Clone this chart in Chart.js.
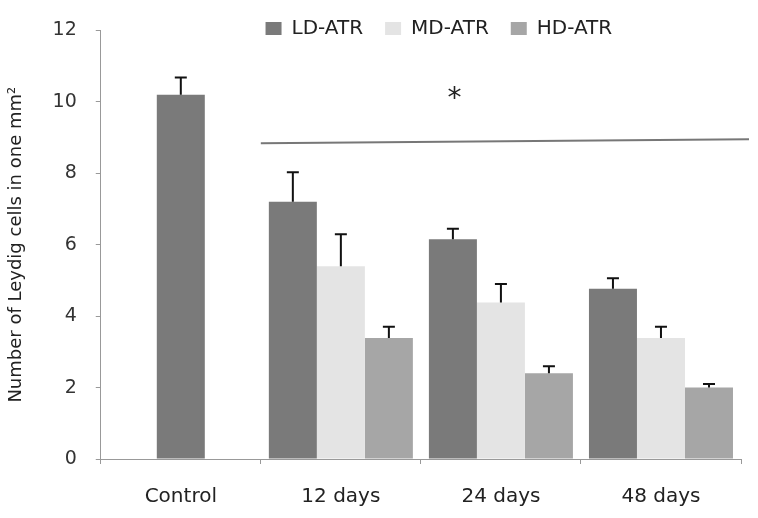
<!DOCTYPE html>
<html>
<head>
<meta charset="utf-8">
<script src="https://cdn.jsdelivr.net/npm/chart.js@4.4.0/dist/chart.umd.min.js"></script>
<style>
  html, body { margin: 0; padding: 0; background: #fff; }
  #wrap { width: 758px; height: 518px; }
</style>
</head>
<body>
<div id="wrap"><canvas id="myChart"></canvas></div>
<script>
// data
const categories = ['Control', '12 days', '24 days', '48 days'];
const ldValues = [10.2, 7.2, 6.15, 4.77];
const mdValues = [null, 5.4, 4.38, 3.39];
const hdValues = [null, 3.39, 2.4, 2.0];
const ldErrors = [0.48, 0.83, 0.3, 0.29];
const mdErrors = [null, 0.89, 0.52, 0.31];
const hdErrors = [null, 0.31, 0.2, 0.1];
const yTicks = [0, 2, 4, 6, 8, 10, 12];

// significance line (category index / y value) and the asterisk
const sigLine = { from: 0.5, to: 3.55, y0: 8.84, y1: 8.95 };
const starPos = { index: 1.71, value: 10.33 };

Chart.defaults.font.family = 'DejaVu Sans';

const errorBars = {
  id: 'errorBars',
  afterLayout(chart) {
    // legend sits right of the plot centre and overlaps the top a little
    const lg = chart.legend;
    lg.left += 18;
    lg.right += 18;
    lg.top -= 4;
    lg.bottom += 16;
  },
  afterDatasetsDraw(chart) {
    const c = chart.ctx;
    const x = chart.scales.x;
    const y = chart.scales.y;
    c.save();
    c.strokeStyle = '#111';
    c.lineWidth = 2;
    chart.data.datasets.forEach((ds, i) => {
      const meta = chart.getDatasetMeta(i);
      ds.errors.forEach((err, j) => {
        if (err == null || ds.data[j] == null) return;
        const bar = meta.data[j];
        const top = y.getPixelForValue(ds.data[j] + err);
        c.beginPath();
        c.moveTo(bar.x, bar.y);
        c.lineTo(bar.x, top);
        c.moveTo(bar.x - 6, top);
        c.lineTo(bar.x + 6, top);
        c.stroke();
      });
    });

    c.strokeStyle = '#777';
    c.lineWidth = 2;
    c.beginPath();
    c.moveTo(x.getPixelForValue(sigLine.from), y.getPixelForValue(sigLine.y0));
    c.lineTo(x.getPixelForValue(sigLine.to), y.getPixelForValue(sigLine.y1));
    c.stroke();

    c.fillStyle = '#222';
    c.font = '28px DejaVu Sans';
    c.textAlign = 'center';
    c.textBaseline = 'alphabetic';
    c.fillText('*', x.getPixelForValue(starPos.index), y.getPixelForValue(starPos.value) + 28 * 0.6);
    c.restore();
  }
};

const ctx = document.getElementById('myChart');

new Chart(ctx, {
  type: 'bar',
  data: {
    labels: categories,
    datasets: [{
      label: 'LD-ATR',
      data: ldValues,
      errors: ldErrors,
      backgroundColor: '#7a7a7a',
    }, {
      label: 'MD-ATR',
      data: mdValues,
      errors: mdErrors,
      backgroundColor: '#e4e4e4',
    }, {
      label: 'HD-ATR',
      data: hdValues,
      errors: hdErrors,
      backgroundColor: '#a6a6a6',
    }]
  },
  options: {
    responsive: true,
    maintainAspectRatio: false,
    animation: false,
    datasets: {
      bar: {
        skipNull: true,
        barPercentage: 1,
        categoryPercentage: 0.9,
        maxBarThickness: 48,
      }
    },
    layout: {
      padding: { left: 4, right: 17, top: 0, bottom: 9 }
    },
    plugins: {
      legend: {
        fullSize: false,
        maxHeight: 30,
        labels: {
          boxWidth: 16,
          boxHeight: 13,
          padding: 22,
          color: '#222',
          font: { size: 20 },
        }
      },
      tooltip: { enabled: false }
    },
    scales: {
      x: {
        grid: {
          drawOnChartArea: false,
          tickLength: 5,
          color: '#999',
        },
        border: { color: '#999' },
        ticks: {
          padding: 21,
          color: '#222',
          font: { size: 20 },
        },
        // chart.js counts tick padding twice
        afterFit: axis => { axis.height -= axis.options.ticks.padding; },
      },
      y: {
        min: 0,
        max: 12,
        afterBuildTicks: axis => { axis.ticks = yTicks.map(v => ({ value: v })); },
        afterFit: axis => { axis.width -= axis.options.ticks.padding; },
        grid: {
          drawOnChartArea: false,
          tickLength: 5,
          color: '#999',
        },
        border: { color: '#999' },
        ticks: {
          padding: 19,
          color: '#333',
          font: { size: 19 },
        },
        title: {
          display: true,
          text: 'Number of Leydig cells in one mm²',
          color: '#222',
          font: { size: 18 },
          padding: { top: 2, bottom: 25 },
        }
      }
    }
  },
  plugins: [errorBars]
});
</script>
</body>
</html>
